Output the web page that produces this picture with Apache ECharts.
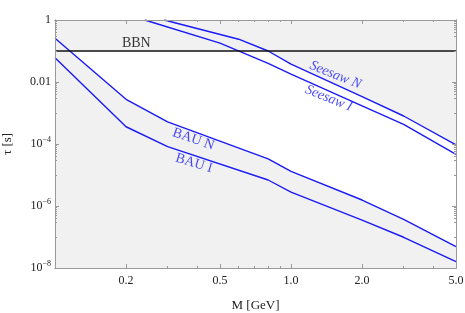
<!DOCTYPE html>
<html><head><meta charset="utf-8">
<script src="https://cdn.jsdelivr.net/npm/echarts@6/dist/echarts.min.js"></script>
<style>html,body{margin:0;padding:0;background:#fff}#c{width:465px;height:313px}</style>
</head><body><div id="c"></div>
<script>
// ---- data (M in GeV, tau in s) ----
const massRange = [0.1, 5.0];
const tauRange = [1e-8, 1];
const massTicks = [0.2, 0.5, 1.0, 2.0, 5.0];
const massMinorTicks = [0.3, 0.4, 0.6, 0.7, 0.8, 0.9, 3, 4];
const tauTicks = [1, 1e-2, 1e-4, 1e-6, 1e-8];
const bbnTau = 0.1;

const bauN_M   = [0.1, 0.2, 0.3, 0.8, 1.0, 2.0, 3.0, 5.0];
const bauN_tau = [0.257, 2.77e-3, 5.2e-4, 3.3e-5, 1.3e-5, 1.56e-6, 3.7e-7, 4.9e-8];
const bauI_M   = [0.1, 0.2, 0.3, 0.8, 1.0, 2.0, 3.0, 5.0];
const bauI_tau = [0.061, 3.6e-4, 8.2e-5, 6.9e-6, 2.8e-6, 3.5e-7, 9.8e-8, 1.6e-8];
const seeN_M   = [0.29, 0.6, 0.8, 1.0, 2.0, 3.0, 5.0];
const seeN_tau = [1.0, 0.24, 0.10, 0.038, 3.4e-3, 8.0e-4, 9.3e-5];
const seeI_M   = [0.24, 0.5, 0.8, 1.0, 2.0, 3.0, 5.0];
const seeI_tau = [1.0, 0.18, 0.04, 0.018, 1.7e-3, 4.3e-4, 4.6e-5];

const labelTexts = ['BBN', 'BAU N', 'BAU I', 'Seesaw N', 'Seesaw I'];
const labelM     = [0.221, 0.386, 0.388, 1.542, 1.444];
const labelTau   = [0.177, 1.43e-4, 2.38e-5, 0.0168, 2.98e-3];

// ---- build ----
const lg = Math.log10;
const pts = (ms, ts) => ms.map((m, i) => [lg(m), lg(ts[i])]);
const FONT = 'Liberation Serif';
const BLUE = '#1a1af5';
const GRAY = '#f1f1f1';
const AX = '#9a9a9a';

// upper boundary of the allowed (white) region: min(BBN, Seesaw N)
function upperBoundary() {
  const s = pts(seeN_M, seeN_tau);
  const b = lg(bbnTau);
  const out = [[lg(massRange[0]), b]];
  for (let i = 0; i < s.length; i++) {
    if (s[i][1] <= b) {
      if (i > 0 && s[i - 1][1] > b) {
        const f = (s[i - 1][1] - b) / (s[i - 1][1] - s[i][1]);
        out.push([s[i - 1][0] + f * (s[i][0] - s[i - 1][0]), b]);
      }
      out.push(s[i]);
    }
  }
  return out;
}

const tauMinor = [];
tauTicks.forEach(t => {
  const d = t / 10;
  if (d >= tauRange[0]) {
    tauMinor.push(d);
    for (let k = 3; k <= 9; k++) tauMinor.push(k * d);
  }
});

function xAxisDef(pos, ticks, len, labels) {
  return {
    type: 'value', position: pos, min: lg(massRange[0]), max: lg(massRange[1]), z: 5,
    axisLine: { show: true, onZero: false, lineStyle: { color: AX, width: 1 } },
    axisTick: { show: true, inside: true, length: len, customValues: ticks.map(lg), lineStyle: { color: AX } },
    axisLabel: labels ? {
      show: true, margin: 7, customValues: ticks.map(lg), color: '#222',
      fontFamily: FONT, fontSize: 12,
      formatter: v => Math.pow(10, v).toFixed(1)
    } : { show: false },
    splitLine: { show: false }, minorTick: { show: false },
    name: labels ? 'M [GeV]' : '', nameLocation: 'middle', nameGap: 31,
    nameTextStyle: { fontFamily: FONT, fontSize: 13, color: '#222' }
  };
}
function yAxisDef(pos, ticks, len, labels) {
  return {
    type: 'value', position: pos, min: lg(tauRange[0]), max: lg(tauRange[1]), z: 5,
    axisLine: { show: true, onZero: false, lineStyle: { color: AX, width: 1 } },
    axisTick: { show: true, inside: true, length: len, customValues: ticks.map(lg), lineStyle: { color: AX } },
    axisLabel: labels ? {
      show: true, margin: 4, customValues: ticks.map(lg), color: '#222',
      fontFamily: FONT, fontSize: 12,
      formatter: v => {
        const e = Math.round(v);
        if (e === 0) return '1';
        if (e === -2) return '0.01';
        return '{b|10}{s|\u2212' + (-e) + '}';
      },
      rich: {
        b: { fontFamily: FONT, fontSize: 12, lineHeight: 16, color: '#222' },
        s: { fontFamily: FONT, fontSize: 8, lineHeight: 8, verticalAlign: 'top', color: '#222' }
      }
    } : { show: false },
    splitLine: { show: false }, minorTick: { show: false },
    name: labels ? '\u03c4 [s]' : '', nameLocation: 'middle', nameGap: 41,
    nameTextStyle: { fontFamily: FONT, fontSize: 13, color: '#222' }
  };
}

const fillBase = { type: 'line', symbol: 'none', silent: true, lineStyle: { width: 0, opacity: 0 }, animation: false };
const lineBase = { type: 'line', symbol: 'none', silent: true, z: 3, animation: false };

const labelRot = [0, -19, -17, -22, -22];
const labelItalic = [false, false, false, true, true];
const labelColor = ['#000', BLUE, BLUE, BLUE, BLUE];
const labelData = labelTexts.map((t, i) => ({
  value: [lg(labelM[i]), lg(labelTau[i])],
  label: {
    show: true, position: 'inside', formatter: t, rotate: labelRot[i],
    fontFamily: FONT, fontSize: 14, fontStyle: labelItalic[i] ? 'italic' : 'normal',
    color: labelColor[i]
  }
}));

const chart = echarts.init(document.getElementById('c'), null, { renderer: 'canvas' });
chart.setOption({
  animation: false,
  backgroundColor: '#fff',
  grid: { left: 55, right: 9, top: 20, bottom: 45, show: true, backgroundColor: GRAY, borderWidth: 0,
          containLabel: false, outerBoundsMode: 'none' },
  xAxis: [
    xAxisDef('bottom', massTicks, 4, true),
    xAxisDef('bottom', massMinorTicks, 2, false),
    xAxisDef('top', massTicks, 4, false),
    xAxisDef('top', massMinorTicks, 2, false)
  ],
  yAxis: [
    yAxisDef('left', tauTicks, 4, true),
    yAxisDef('left', tauMinor, 2, false),
    yAxisDef('right', tauTicks, 4, false),
    yAxisDef('right', tauMinor, 2, false)
  ],
  series: [
    // white allowed region: below min(BBN, Seesaw N)
    Object.assign({}, fillBase, { z: 1,
      data: upperBoundary(),
      areaStyle: { color: '#ffffff', opacity: 1, origin: 'start' } }),
    // gray below BAU N
    Object.assign({}, fillBase, { z: 2,
      data: pts(bauN_M, bauN_tau),
      areaStyle: { color: GRAY, opacity: 1, origin: 'start' } }),
    Object.assign({}, lineBase, { name: 'BAU N', data: pts(bauN_M, bauN_tau), lineStyle: { color: BLUE, width: 1.4 } }),
    Object.assign({}, lineBase, { name: 'BAU I', data: pts(bauI_M, bauI_tau), lineStyle: { color: BLUE, width: 1.4 } }),
    Object.assign({}, lineBase, { name: 'Seesaw N', data: pts(seeN_M, seeN_tau), lineStyle: { color: BLUE, width: 1.4 } }),
    Object.assign({}, lineBase, { name: 'Seesaw I', data: pts(seeI_M, seeI_tau), lineStyle: { color: BLUE, width: 1.4 } }),
    Object.assign({}, lineBase, { name: 'BBN',
      data: [[lg(massRange[0]), lg(bbnTau)], [lg(massRange[1]), lg(bbnTau)]],
      lineStyle: { color: '#111', width: 1.4 } }),
    { type: 'scatter', z: 4, symbolSize: 0, silent: true, animation: false, data: labelData }
  ]
});
</script></body></html>
